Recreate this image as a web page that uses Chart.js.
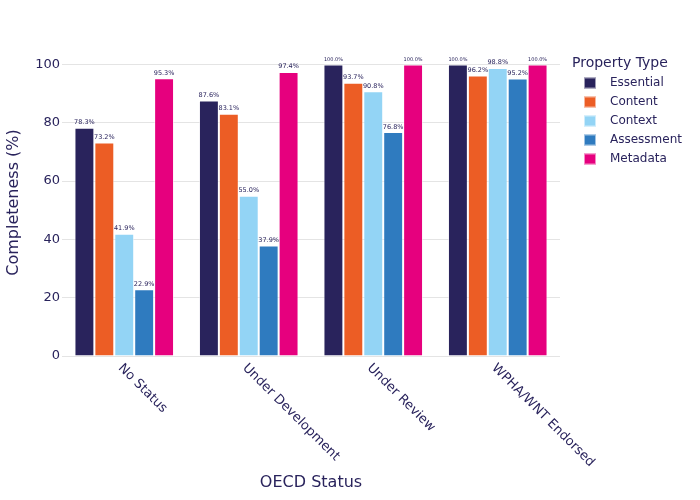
<!DOCTYPE html>
<html>
<head>
<meta charset="utf-8">
<script src="https://cdn.jsdelivr.net/npm/chart.js@4.4.0/dist/chart.umd.min.js"></script>
<style>
  body { margin: 0; background: #fff; }
  #wrap { width: 700px; height: 500px; }
</style>
</head>
<body>
<div id="wrap"><canvas id="bar-chart" width="700" height="500"></canvas></div>
<script>
//grouped bar chart

var statuses = ['No Status', 'Under Development', 'Under Review', 'WPHA/WNT Endorsed'];

var essential = [78.3, 87.6, 100.0, 100.0];
var content = [73.2, 83.1, 93.7, 96.2];
var context = [41.9, 55.0, 90.8, 98.8];
var assessment = [22.9, 37.9, 76.8, 95.2];
var metadata = [95.3, 97.4, 100.0, 100.0];

var yTicks = [0, 20, 40, 60, 80, 100];

var ink = '#29235c';
var edge = 'rgba(255, 255, 255, 0.55)';
var font = '"DejaVu Sans", Verdana, sans-serif';

// percentage text above each bar
var barLabels = {
    id: 'barLabels',
    afterDatasetsDraw: function (chart) {
        var c = chart.ctx;
        c.save();
        c.fillStyle = ink;
        c.textAlign = 'center';
        c.textBaseline = 'bottom';
        chart.data.datasets.forEach(function (ds, i) {
            var meta = chart.getDatasetMeta(i);
            meta.data.forEach(function (bar, j) {
                var v = ds.data[j];
                c.font = (v >= 99.95 ? '5px ' : '6.5px ') + font;
                c.fillText(v.toFixed(1) + '%', bar.x, bar.y - 2);
            });
        });
        c.restore();
    }
};

// rotated category labels (text runs down-right from the tick)
var xLabels = {
    id: 'xLabels',
    afterDraw: function (chart) {
        var c = chart.ctx;
        var x = chart.scales.x;
        c.save();
        c.fillStyle = ink;
        c.font = '13px ' + font;
        c.textAlign = 'left';
        c.textBaseline = 'middle';
        statuses.forEach(function (s, i) {
            c.save();
            c.translate(x.getPixelForValue(i) - 4, chart.chartArea.bottom + 10);
            c.rotate(Math.PI / 4);
            c.fillText(s, 0, 0);
            c.restore();
        });
        c.restore();
    }
};

// legend with title, items indented under it
var sideLegend = {
    id: 'sideLegend',
    afterDraw: function (chart) {
        var c = chart.ctx;
        var left = chart.chartArea.right + 12;
        var top = 63;
        c.save();
        c.fillStyle = ink;
        c.textAlign = 'left';
        c.textBaseline = 'middle';
        c.font = '14px ' + font;
        c.fillText('Property Type', left, top);
        c.font = '12px ' + font;
        chart.data.datasets.forEach(function (ds, i) {
            var y = top + 20 + i * 19;
            c.fillStyle = ds.backgroundColor;
            c.fillRect(left + 12, y - 5.5, 12, 11);
            c.strokeStyle = edge;
            c.lineWidth = 1;
            c.strokeRect(left + 12.5, y - 5, 11, 10);
            c.fillStyle = ink;
            c.fillText(ds.label, left + 38, y);
        });
        c.restore();
    }
};

var ctx = document.getElementById('bar-chart');

function ds(label, data, color) {
    return {
        label: label,
        data: data,
        backgroundColor: color,
        borderColor: edge,
        borderWidth: 1,
        categoryPercentage: 0.8,
        barPercentage: 1.0
    };
}

var myChart = new Chart(ctx, {
    type: 'bar',
    data: {
        labels: statuses,
        datasets: [
            ds('Essential', essential, '#29235c'),
            ds('Content', content, '#ec5d25'),
            ds('Context', context, '#93d4f5'),
            ds('Assessment', assessment, '#2f7bbf'),
            ds('Metadata', metadata, '#e6007e')
        ]
    },
    options: {
        responsive: false,
        animation: false,
        layout: {
            padding: { top: 49, bottom: 8, left: 0, right: 140 }
        },
        scales: {
            x: {
                grid: { display: false },
                border: { display: false },
                ticks: { display: false },
                title: {
                    display: true,
                    text: 'OECD Status',
                    color: ink,
                    font: { family: font, size: 16 },
                    padding: 0
                },
                afterFit: function (scale) { scale.height = 136; }
            },
            y: {
                min: 0,
                max: 105.3,
                afterBuildTicks: function (scale) {
                    scale.ticks = yTicks.map(function (v) { return { value: v }; });
                },
                grid: { color: '#e4e4e4', drawTicks: false },
                border: { display: false },
                ticks: {
                    color: ink,
                    font: { family: font, size: 13 },
                    padding: 2
                },
                title: {
                    display: true,
                    text: 'Completeness (%)',
                    color: ink,
                    font: { family: font, size: 16 },
                    padding: { top: 4, bottom: 8 }
                },
                afterFit: function (scale) { scale.width = 62; }
            }
        },
        plugins: {
            tooltip: { enabled: false },
            legend: { display: false }
        }
    },
    plugins: [barLabels, xLabels, sideLegend]
});
</script>
</body>
</html>
